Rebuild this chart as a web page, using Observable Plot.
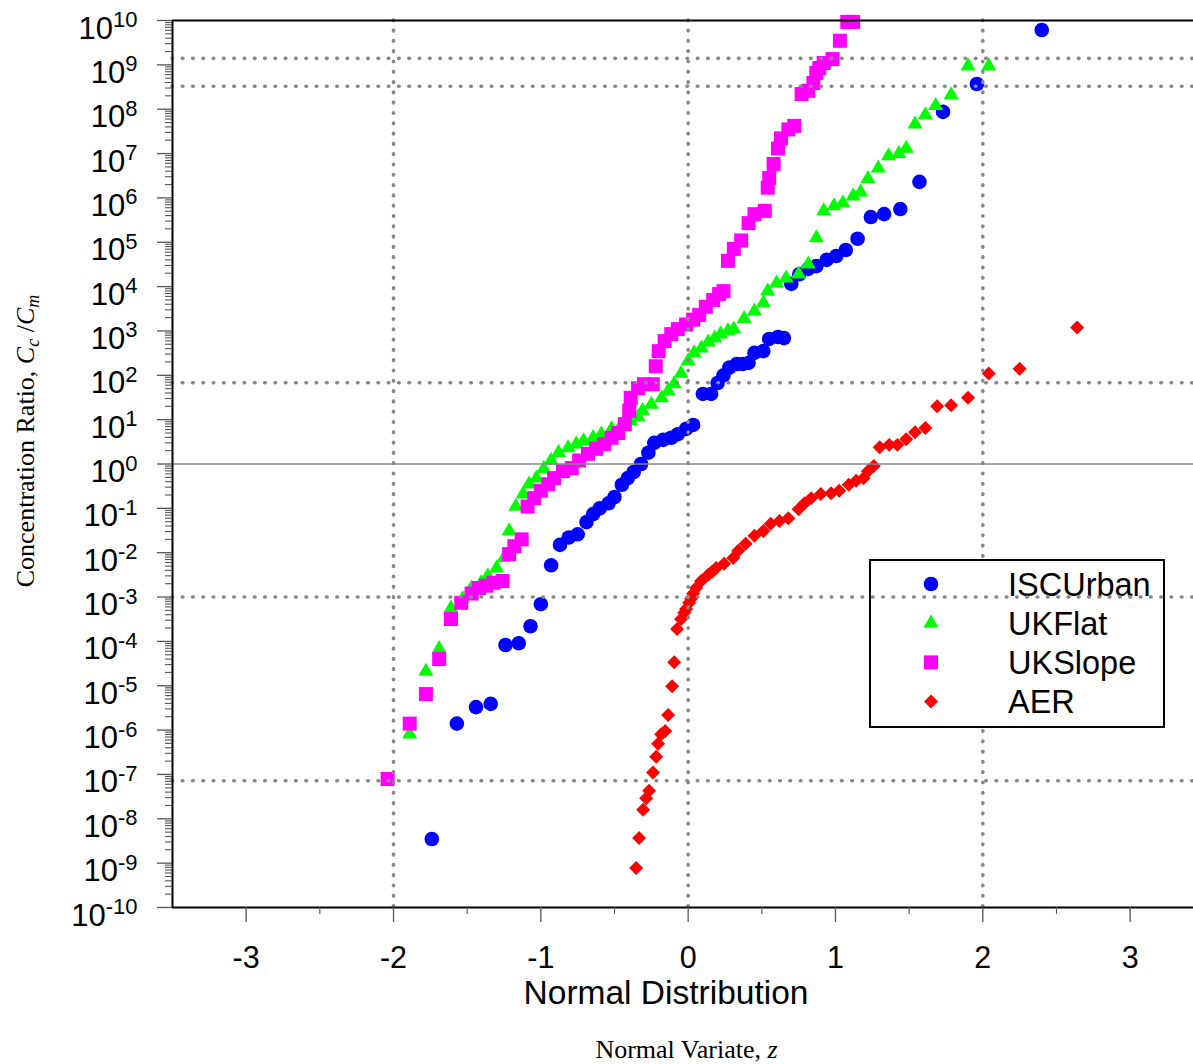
<!DOCTYPE html>
<html><head><meta charset="utf-8">
<script src="https://cdn.jsdelivr.net/npm/d3@7"></script>
<script src="https://cdn.jsdelivr.net/npm/@observablehq/plot@0.6"></script>
<style>body{margin:0;background:#fff} #chart svg{display:block}</style>
</head><body><div id="chart"></div>
<script>
// ---- data (normal variate z, concentration ratio Cc/Cm) ----
const seriesNames = ["ISCUrban", "UKFlat", "UKSlope", "AER"];
const seriesColors = ["#0000ff", "#00ff00", "#ff00ff", "#ff0000"];

const iscUrbanZ = [-1.74,-1.57,-1.44,-1.34,-1.24,-1.15,-1.07,-1.00,-0.93,-0.87,
  -0.81,-0.75,-0.69,-0.645,-0.60,-0.54,-0.50,-0.45,-0.41,-0.37,
  -0.32,-0.27,-0.23,-0.17,-0.115,-0.07,-0.014,0.034,0.10,0.156,
  0.20,0.24,0.28,0.33,0.37,0.41,0.45,0.51,0.55,0.61,
  0.65,0.70,0.754,0.815,0.87,0.94,1.005,1.07,1.15,1.24,
  1.33,1.44,1.57,1.73,1.96,2.40];
const iscUrbanC = [3.5e-9,1.4e-6,3.3e-6,3.9e-6,8.3e-5,9.1e-5,2.2e-4,6.9e-4,5.2e-3,1.5e-2,
  2.2e-2,2.6e-2,4.9e-2,7.4e-2,0.10,0.13,0.18,0.34,0.48,0.66,
  1.0,1.8,3.0,3.5,3.9,4.7,6.2,7.6,38,38,
  67,100,150,180,180,190,320,350,660,730,
  690,1.15e4,1.9e4,2.5e4,2.9e4,4.0e4,4.9e4,6.7e4,1.2e5,3.7e5,
  4.3e5,5.6e5,2.3e6,8.7e7,3.7e8,6.1e9];

const ukFlatZ = [-1.89,-1.78,-1.69,-1.61,-1.53,-1.47,-1.405,-1.36,-1.30,-1.25,
  -1.215,-1.17,-1.12,-1.08,-1.03,-0.98,-0.93,-0.88,-0.815,-0.76,
  -0.71,-0.645,-0.59,-0.52,-0.455,-0.39,-0.34,-0.31,-0.25,-0.18,
  -0.136,-0.095,-0.048,0.0,0.04,0.09,0.136,0.18,0.22,0.27,
  0.31,0.38,0.45,0.51,0.54,0.60,0.665,0.75,0.815,0.87,
  0.92,0.99,1.05,1.12,1.17,1.22,1.29,1.36,1.43,1.48,
  1.54,1.61,1.68,1.785,1.90,2.04];
const ukFlatC = [8.1e-7,2.1e-5,6.8e-5,5.6e-4,9.1e-4,1.6e-3,2.1e-3,3.0e-3,4.5e-3,7.6e-3,
  3.1e-2,0.11,0.21,0.35,0.48,0.78,1.2,1.8,2.3,2.8,
  3.3,3.9,4.7,6.2,7.6,9.3,11.5,16,22,31,
  44,64,110,210,320,410,560,690,850,1.0e3,
  1.1e3,1.9e3,2.8e3,4.3e3,7.9e3,1.2e4,1.55e4,1.9e4,3.2e4,1.25e5,
  5.1e5,6.6e5,7.7e5,1.1e6,1.35e6,2.7e6,4.7e6,8.8e6,1.0e7,1.3e7,
  4.6e7,7.4e7,1.2e8,2.1e8,9.4e8,9.4e8];

const ukSlopeZ = [-2.04,-1.89,-1.78,-1.69,-1.61,-1.54,-1.47,-1.42,-1.37,-1.32,
  -1.26,-1.215,-1.18,-1.13,-1.09,-1.045,-1.00,-0.95,-0.91,-0.85,
  -0.79,-0.74,-0.68,-0.625,-0.57,-0.52,-0.475,-0.43,-0.40,-0.39,
  -0.34,-0.30,-0.24,-0.22,-0.20,-0.16,-0.115,-0.07,-0.014,0.034,
  0.075,0.12,0.17,0.21,0.24,0.27,0.31,0.36,0.41,0.45,
  0.52,0.54,0.55,0.58,0.61,0.63,0.68,0.72,0.77,0.815,
  0.85,0.87,0.89,0.92,0.98,1.03,1.08,1.12];
const ukSlopeC = [7.9e-8,1.4e-6,6.5e-6,4.0e-5,3.2e-4,7.4e-4,1.2e-3,1.6e-3,1.8e-3,2.1e-3,
  2.3e-3,9.3e-3,1.4e-2,2.0e-2,0.11,0.17,0.25,0.35,0.48,0.69,
  0.81,1.2,1.7,2.2,2.8,3.9,5.0,7.9,16,31,
  51,63,63,160,350,590,850,1.1e3,1.4e3,1.8e3,
  2.3e3,3.5e3,5.0e3,6.8e3,7.9e3,3.8e4,7.1e4,1.1e5,2.7e5,4.3e5,
  5.1e5,1.7e6,2.8e6,5.8e6,1.3e7,2.2e7,3.5e7,4.2e7,2.2e8,2.6e8,
  3.9e8,6.6e8,8.5e8,1.1e9,1.35e9,3.5e9,9.3e9,9.3e9];

const aerZ = [-0.353,-0.333,-0.306,-0.285,-0.265,-0.238,-0.217,-0.204,-0.183,-0.156,
  -0.136,-0.109,-0.095,-0.075,-0.048,-0.027,-0.014,0.007,0.020,0.034,
  0.054,0.088,0.136,0.163,0.19,0.244,0.306,0.34,0.39,0.45,
  0.51,0.56,0.62,0.68,0.75,0.79,0.835,0.90,0.97,1.025,
  1.09,1.14,1.19,1.22,1.26,1.30,1.365,1.42,1.48,1.54,
  1.61,1.69,1.785,1.90,2.04,2.25,2.64];
const aerC = [7.8e-10,3.7e-9,1.6e-8,2.9e-8,4.3e-8,1.1e-7,2.5e-7,4.9e-7,8.1e-7,9.5e-7,
  2.2e-6,9.8e-6,3.4e-5,1.9e-4,3.2e-4,4.4e-4,5.4e-4,7.4e-4,9.1e-4,1.2e-3,
  1.6e-3,2.3e-3,3.2e-3,3.7e-3,4.5e-3,5.6e-3,7.6e-3,1.1e-2,1.6e-2,2.4e-2,
  3.1e-2,4.5e-2,5.2e-2,6.0e-2,9.6e-2,0.13,0.17,0.21,0.22,0.25,
  0.34,0.42,0.48,0.69,0.90,2.4,2.7,2.7,3.6,5.2,
  6.5,20,21,31,110,140,1200];

// axes / reference lines
const xMajorTicks = [-3, -2, -1, 0, 1, 2, 3];
const xMinorTicks = [-2.5, -1.5, -0.5, 0.5, 1.5, 2.5];
const yExponents = d3.range(-10, 11);
const yMajorTicks = yExponents.map(e => Math.pow(10, e));
const yMinorTicks = yExponents.slice(0, -1).flatMap(e => [2,3,4,5,6,7,8,9].map(m => m * Math.pow(10, e)));
const gridX = [-2, 0, 2];
const gridY = [1.4e9, 3.3e8, 68, 1e-3, 7.2e-8];
const unityLine = [1];

// ---- build ----
const rows = (z, c, s) => z.map((v, i) => ({z: v, c: c[i], series: s}));
const iscRows = rows(iscUrbanZ, iscUrbanC, seriesNames[0]);
const flatRows = rows(ukFlatZ, ukFlatC, seriesNames[1]);
const slopeRows = rows(ukSlopeZ, ukSlopeC, seriesNames[2]);
const aerRows = rows(aerZ, aerC, seriesNames[3]);

const symbols = [d3.symbolCircle, d3.symbolTriangle, d3.symbolSquare, d3.symbolDiamond2];
const radii = [7.3, 5.6, 7.9, 6.3];

const dotted = {stroke: "#888", strokeWidth: 3.6, strokeDasharray: "0.6,9.7", strokeLinecap: "round"};
const sans = "'Liberation Sans', Arial, Helvetica, sans-serif";
const serif = "'Liberation Serif', 'Times New Roman', Times, serif";

function legendMark() {
  const g = d3.create("svg:g").attr("aria-label", "legend");
  g.append("rect").attr("x", 870).attr("y", 560).attr("width", 294).attr("height", 167)
    .attr("fill", "white").attr("stroke", "black").attr("stroke-width", 2);
  seriesNames.forEach((name, i) => {
    const cy = 584 + i * 39.2;
    g.append("path")
      .attr("d", d3.symbol(symbols[i], Math.PI * radii[i] * radii[i])())
      .attr("transform", `translate(931,${cy})`)
      .attr("fill", seriesColors[i]);
    g.append("text").attr("x", 1008).attr("y", cy + 11.5).attr("text-anchor", "start")
      .attr("font-family", sans).attr("font-size", 32.5).attr("fill", "black").text(name);
  });
  return g.node();
}

const svg = Plot.plot({
  width: 1193,
  height: 1064,
  marginLeft: 172,
  marginRight: 0,
  marginTop: 20,
  marginBottom: 157,
  style: {fontFamily: sans, background: "white", overflow: "visible"},
  x: {domain: [-3.5, 3.43], axis: null},
  y: {type: "log", domain: [1e-10, 1e10], axis: null},
  marks: [
    Plot.dot(iscRows, {x: "z", y: "c", symbol: symbols[0], r: radii[0], fill: seriesColors[0], stroke: "none"}),
    Plot.dot(flatRows, {x: "z", y: "c", symbol: symbols[1], r: radii[1], fill: seriesColors[1], stroke: "none"}),
    Plot.dot(slopeRows, {x: "z", y: "c", symbol: symbols[2], r: radii[2], fill: seriesColors[2], stroke: "none"}),
    Plot.dot(aerRows, {x: "z", y: "c", symbol: symbols[3], r: radii[3], fill: seriesColors[3], stroke: "none"}),
    Plot.ruleX(gridX, dotted),
    legendMark,
    Plot.ruleY(unityLine, {stroke: "#888", strokeWidth: 1.6}),
    Plot.ruleY(gridY, dotted),
    // frame lines
    Plot.ruleY([1e10], {stroke: "black", strokeWidth: 2}),
    Plot.ruleY([1e-10], {stroke: "black", strokeWidth: 2}),
    Plot.ruleX([-3.5], {stroke: "black", strokeWidth: 2}),
    // axes
    Plot.axisY({ticks: yMajorTicks, tickSize: 15, tickFormat: () => "", label: null, stroke: "#555", strokeWidth: 1.3}),
    Plot.axisY({ticks: yMinorTicks, tickSize: 7, tickFormat: () => "", label: null, stroke: "#555", strokeWidth: 1.1}),
    Plot.axisX({ticks: xMajorTicks, tickSize: 15, tickPadding: 24, fontSize: 30.5, tickFormat: d => String(d), label: null, stroke: "#555", strokeWidth: 1.3}),
    Plot.axisX({ticks: xMinorTicks, tickSize: 7, tickFormat: () => "", label: null, stroke: "#555", strokeWidth: 1.1}),
    Plot.text(yMajorTicks, {y: d => d, text: d => String(Math.round(Math.log10(d))), frameAnchor: "left",
      dx: -35, textAnchor: "end", fontSize: 31, fill: "black", ariaLabel: () => "ytick-label"}),
    // titles
    Plot.text(["Normal Distribution"], {frameAnchor: "bottom", textAnchor: "middle", dx: -17, dy: 96, fontSize: 33.5, fill: "black"}),
    Plot.text(["Normal Variate, z"], {frameAnchor: "bottom", textAnchor: "middle", dx: 3.5, dy: 150, fontSize: 26, fontFamily: serif, fill: "black", ariaLabel: () => "xlabel2"}),
    Plot.text(["Concentration Ratio, Cc /Cm"], {frameAnchor: "left", textAnchor: "middle", dx: -147.3, dy: -23, rotate: -90, fontSize: 26, fontFamily: serif, fill: "black", ariaLabel: () => "ylabel"})
  ]
});

const s = d3.select(svg);
function textsFor(label) {
  const out = [];
  s.selectAll(`[aria-label="${label}"]`).each(function() {
    if (this.tagName.toLowerCase() === "text") out.push(this);
    else this.querySelectorAll("text").forEach(t => out.push(t));
  });
  return out;
}
// y tick labels: 10 with superscript exponent
textsFor("ytick-label").forEach(el => {
  const exp = el.textContent;
  const t = d3.select(el);
  const yAttr = t.attr("y");
  if (yAttr && String(yAttr).endsWith("em")) t.attr("y", 0);
  t.attr("dy", null).text(null);
  t.append("tspan").attr("dy", 18).text("10");
  t.append("tspan").attr("dy", -11.5).attr("font-size", 22).text(exp);
});
// x label 2 with italic z
textsFor("xlabel2").forEach(el => {
  const t = d3.select(el);
  t.text(null);
  t.append("tspan").text("Normal Variate, ");
  t.append("tspan").attr("font-style", "italic").text("z");
});
// y label with subscripts
textsFor("ylabel").forEach(el => {
  const t = d3.select(el);
  t.text(null);
  t.append("tspan").text("Concentration Ratio, ");
  t.append("tspan").attr("font-style", "italic").text("C");
  t.append("tspan").attr("font-style", "italic").attr("font-size", 18).attr("dy", 5).text("c");
  t.append("tspan").attr("dy", -5).text(" /");
  t.append("tspan").attr("font-style", "italic").text("C");
  t.append("tspan").attr("font-style", "italic").attr("font-size", 18).attr("dy", 5).text("m");
});

document.getElementById("chart").appendChild(svg);
</script>
</body></html>
